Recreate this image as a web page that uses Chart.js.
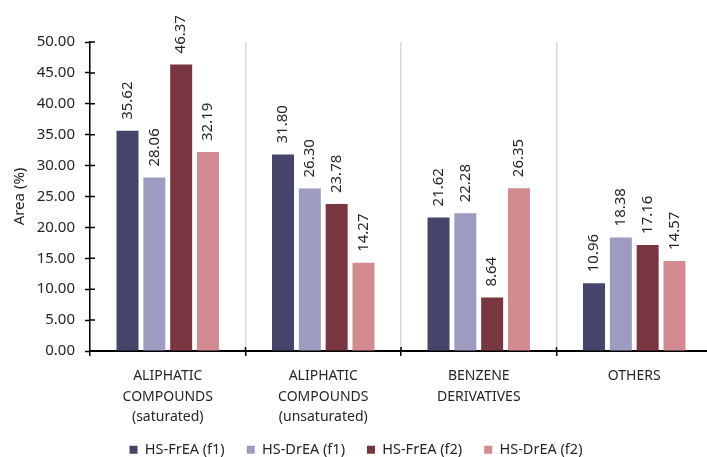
<!DOCTYPE html>
<html>
<head>
<meta charset="utf-8">
<script src="https://cdn.jsdelivr.net/npm/chart.js@4/dist/chart.umd.min.js"></script>
<style>
  html, body { margin: 0; padding: 0; background: #fff; overflow: hidden; width: 707px; height: 457px; }
  #wrap { width: 712px; height: 457px; }
</style>
</head>
<body>
<div id="wrap"><canvas id="c" width="712" height="457"></canvas></div>
<script>
const categories = [
  ['ALIPHATIC', 'COMPOUNDS', '(saturated)'],
  ['ALIPHATIC', 'COMPOUNDS', '(unsaturated)'],
  ['BENZENE', 'DERIVATIVES'],
  ['OTHERS']
];
const seriesNames = ['HS-FrEA (f1)', 'HS-DrEA (f1)', 'HS-FrEA (f2)', 'HS-DrEA (f2)'];
const frEA_f1 = [35.62, 31.80, 21.62, 10.96];
const drEA_f1 = [28.06, 26.30, 22.28, 18.38];
const frEA_f2 = [46.37, 23.78, 8.64, 17.16];
const drEA_f2 = [32.19, 14.27, 26.35, 14.57];
const seriesColors = ['#45456b', '#9e9bc0', '#7a3640', '#d38a91'];
const yMin = 0, yMax = 50, yStep = 5;

const FONT = 'Noto Sans';
const TEXT = '#262626';

const valueLabels = {
  id: 'valueLabels',
  afterDatasetsDraw(chart) {
    const ctx = chart.ctx;
    ctx.save();
    ctx.font = '15px "' + FONT + '"';
    ctx.fillStyle = TEXT;
    ctx.textAlign = 'left';
    ctx.textBaseline = 'middle';
    chart.data.datasets.forEach((ds, di) => {
      const meta = chart.getDatasetMeta(di);
      meta.data.forEach((bar, i) => {
        ctx.save();
        ctx.translate(bar.x, bar.y - 11);
        ctx.rotate(-Math.PI / 2);
        ctx.fillText(ds.data[i].toFixed(2), 0, 0);
        ctx.restore();
      });
    });
    ctx.restore();
  }
};

const crossTicks = {
  id: 'crossTicks',
  afterLayout(chart) {
    // let multi-line category labels extend below the x-scale box if needed
    chart.scales.x._computeLabelArea = function () { return undefined; };
  },
  afterDraw(chart) {
    const ctx = chart.ctx;
    const x = chart.scales.x, y = chart.scales.y;
    const area = chart.chartArea;
    ctx.save();
    ctx.strokeStyle = '#000';
    ctx.lineWidth = 1.5;
    ctx.beginPath();
    y.ticks.forEach(t => {
      const py = y.getPixelForValue(t.value);
      ctx.moveTo(area.left, py);
      ctx.lineTo(area.left + 5, py);
    });
    const n = chart.data.labels.length;
    for (let i = 1; i < n; i++) {
      const px = (x.getPixelForValue(i - 1) + x.getPixelForValue(i)) / 2;
      ctx.moveTo(px, area.bottom);
      ctx.lineTo(px, area.bottom - 4);
    }
    ctx.stroke();
    ctx.restore();
  }
};

const datasets = [frEA_f1, drEA_f1, frEA_f2, drEA_f2].map((d, i) => ({
  label: seriesNames[i],
  data: d,
  backgroundColor: seriesColors[i],
  borderWidth: 0,
  barPercentage: 0.82,
  categoryPercentage: 0.69
}));

new Chart(document.getElementById('c'), {
  type: 'bar',
  data: { labels: categories, datasets },
  options: {
    responsive: false,
    animation: false,
    devicePixelRatio: 1,
    layout: { padding: { top: 42, right: 0, bottom: -10, left: 0 } },
    plugins: {
      legend: {
        position: 'bottom',
        labels: {
          boxWidth: 8,
          boxHeight: 8,
          padding: 22,
          color: TEXT,
          font: { family: FONT, size: 14.5 }
        }
      },
      tooltip: { enabled: false }
    },
    scales: {
      x: {
        offset: true,
        grid: {
          offset: true,
          color: '#d9d9d9',
          lineWidth: 1.5,
          drawOnChartArea: true,
          drawTicks: true,
          tickLength: 5,
          tickColor: '#000',
          tickWidth: 1.5
        },
        border: { color: '#000', width: 2 },
        ticks: {
          color: TEXT,
          font: { family: FONT, size: 14, lineHeight: 1.464 },
          padding: 10,
          maxRotation: 0,
          autoSkip: false
        },
        afterFit(scale) { scale.height = 69.5; }
      },
      y: {
        min: yMin,
        max: yMax,
        grid: {
          drawOnChartArea: false,
          drawTicks: true,
          tickLength: 5,
          tickColor: '#000',
          tickWidth: 1.5
        },
        border: { color: '#000', width: 1.5 },
        ticks: {
          stepSize: yStep,
          color: TEXT,
          font: { family: FONT, size: 15 },
          padding: 10,
          callback: v => Number(v).toFixed(2)
        },
        title: {
          display: true,
          text: 'Area (%)',
          color: TEXT,
          font: { family: FONT, size: 15 },
          padding: { top: 11, bottom: 0 }
        },
        afterFit(scale) { scale.width = 90; }
      }
    }
  },
  plugins: [valueLabels, crossTicks]
});
</script>
</body>
</html>
